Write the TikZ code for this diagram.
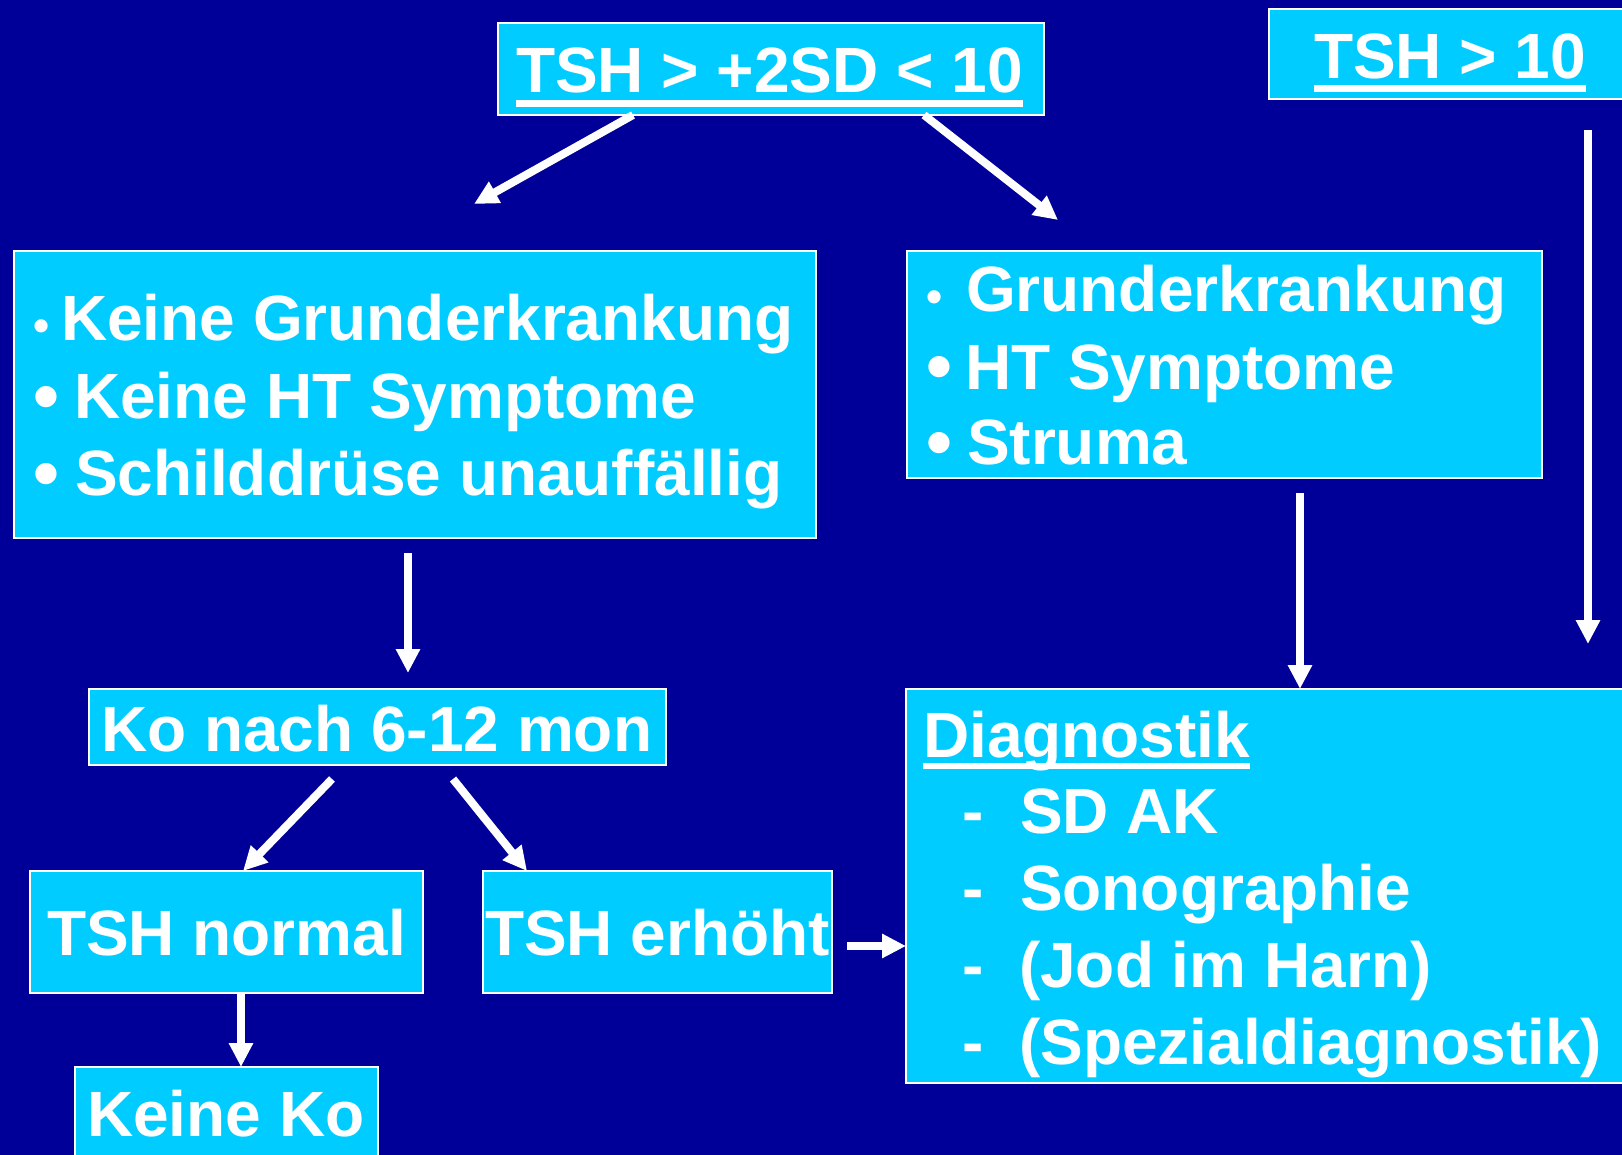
\documentclass[tikz,border=0pt]{standalone}
\usepackage{fontspec}
\setmainfont{Liberation Sans}
\usetikzlibrary{arrows.meta,calc}
\definecolor{bgblue}{RGB}{0,0,153}
\definecolor{boxcyan}{RGB}{0,204,255}
\begin{document}
\begin{tikzpicture}[x=1pt,y=-1pt,
  box/.style={draw=white, line width=2pt, fill=boxcyan, rectangle, inner sep=0pt, outer sep=0pt, anchor=north west},
  txt/.style={text=white, font=\fontsize{64}{77}\selectfont\bfseries, inner sep=0pt, outer sep=0pt, anchor=base west},
  bigbul/.style={text=white, font=\fontsize{74}{74}\selectfont\bfseries, inner sep=0pt, anchor=center},
  smallbul/.style={text=white, font=\fontsize{46}{46}\selectfont\bfseries, inner sep=0pt, anchor=center},
  arr/.style={draw=white, line width=8pt, -{Triangle[length=24pt,width=23pt]}},
  ulbar/.style={fill=white}]
% background and page size
\fill[bgblue] (0,0) rectangle (1622,1155);
\useasboundingbox (0,0) rectangle (1622,1155);

% boxes
\node[box, minimum width=546pt, minimum height=92pt] (T1) at (498,23) {};
\node[box, minimum width=380pt, minimum height=90pt] (T2) at (1269,9) {};
\node[box, minimum width=802pt, minimum height=287pt] (L) at (14,251) {};
\node[box, minimum width=635pt, minimum height=227pt] (R) at (907,251) {};
\node[box, minimum width=577pt, minimum height=76pt] (K) at (89,689) {};
\node[box, minimum width=393pt, minimum height=122pt] (N) at (30,871) {};
\node[box, minimum width=349pt, minimum height=122pt] (E) at (483,871) {};
\node[box, minimum width=303pt, minimum height=110pt] (KK) at (75,1067) {};
\node[box, minimum width=740pt, minimum height=394pt] (D) at (906,689) {};

% titles with underline
\node[txt] (t1) at (516,93) {TSH > +2SD < 10};
\fill[ulbar] ([yshift=-7pt]t1.base west) rectangle ([yshift=-14pt]t1.base east);
\node[txt] (t2) at (1314,79) {TSH > 10};
\fill[ulbar] ([yshift=-6pt]t2.base west) rectangle ([yshift=-13pt]t2.base east);

% left box
\node[smallbul] (lb1) at (42,331) {•};
\node[txt] (l1) at (61,341) {Keine Grunderkrankung};
\node[bigbul] (lb2) at (46,404) {•};
\node[txt] (l2) at (74,418) {Keine HT Symptome};
\node[bigbul] (lb3) at (46,481) {•};
\node[txt] (l3) at (75,495) {Schilddrüse unauffällig};

% right box
\node[smallbul] (rb1) at (935,302) {•};
\node[txt] (r1) at (966,312) {Grunderkrankung};
\node[bigbul] (rb2) at (939,374) {•};
\node[txt] (r2) at (965,389) {HT Symptome};
\node[bigbul] (rb3) at (939,450) {•};
\node[txt] (r3) at (967,464) {Struma};

% small boxes
\node[txt] (k) at (101,751) {Ko nach 6-12 mon};
\node[txt] (n) at (47,955) {TSH normal};
\node[txt] (e) at (485,955) {TSH erhöht};
\node[txt] (kk) at (87,1136) {Keine Ko};

% Diagnostik
\node[txt] (d0) at (923,757) {Diagnostik};
\fill[ulbar] ([yshift=-6pt]d0.base west) rectangle ([yshift=-12pt]d0.base east);
\node[txt] (dd1) at (962,833) {-};
\node[txt] (d1) at (1020,833) {SD AK};
\node[txt] (dd2) at (962,910) {-};
\node[txt] (d2) at (1020,910) {Sonographie};
\node[txt] (dd3) at (962,987) {-};
\node[txt] (d3) at (1019,987) {(Jod im Harn)};
\node[txt] (dd4) at (962,1064) {-};
\node[txt] (d4) at (1019,1064) {(Spezialdiagnostik)};

% connector free ends
\coordinate (a1s) at ($(T1.south west)+(135,0)$);
\coordinate (a2s) at ($(T1.south west)+(426,0)$);
\coordinate (a1e) at (474,204);
\coordinate (a2e) at (1058,220);
\coordinate (a3s) at (1588,130);
\coordinate (a3e) at (1588,644);
\coordinate (a4s) at (408,553);
\coordinate (a4e) at (408,673);
\coordinate (a5s) at (1300,493);
\coordinate (a6s) at (332,779);
\coordinate (a6e) at ($(N.north west)+(213,0)$);
\coordinate (a7s) at (453,779);
\coordinate (a7e) at ($(E.north west)+(44,0)$);
\coordinate (a8s) at ($(N.south west)+(211,0)$);
\coordinate (a9s) at (847,946);

% connectors
\draw[arr] (a1s) -- (a1e);
\draw[arr] (a2s) -- (a2e);
\draw[arr] (a3s) -- (a3e);
\draw[arr] (a4s) -- (a4e);
\draw[arr] (a5s) -- (a5s |- D.north);
\draw[arr] (a6s) -- (a6e);
\draw[arr] (a7s) -- (a7e);
\draw[arr] (a8s) -- (a8s |- KK.north);
\draw[arr] (a9s) -- (a9s -| D.west);
\end{tikzpicture}
\end{document}
